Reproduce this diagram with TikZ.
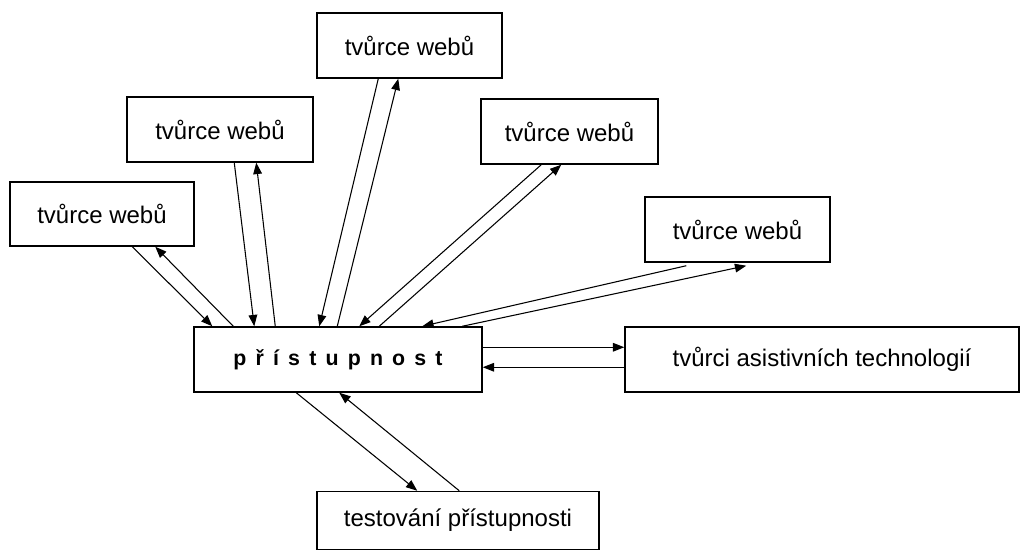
\documentclass[tikz,border=0pt]{standalone}
\usepackage{fontspec}
\setmainfont{Liberation Sans}
\newfontfamily\spacedbold[WordSpace=1.55]{Liberation Sans}
\usetikzlibrary{arrows.meta,calc}
\begin{document}
\begin{tikzpicture}[x=0.75pt,y=-0.75pt,
  box/.style={draw,line width=1.1pt,rectangle,inner sep=0pt,anchor=center,
    font=\fontsize{18}{22}\selectfont},
  sz/.style 2 args={minimum width=#1*0.75pt,minimum height=#2*0.75pt},
  arr/.style={-{Triangle[length=8.5pt,width=6.5pt]},line width=0.8pt}]
\useasboundingbox (0,0) rectangle (1021,552);
% boxes
\node[box,sz={184}{64}] (b1) at (102,214) {tvůrce webů};
\node[box,sz={186}{65}] (b2) at (220,129.5) {tvůrce webů};
\node[box,sz={185}{65}] (b3) at (409.5,45.5) {tvůrce webů};
\node[box,sz={177}{65}] (b4) at (569.5,131.5) {tvůrce webů};
\node[box,sz={185}{65}] (b5) at (737.5,229.5) {tvůrce webů};
\node[box,sz={288}{65}] (c) at (338,359.5) {\spacedbold\bfseries\fontsize{16}{19}\selectfont p ř í s t u p n o s t};
\node[box,sz={394}{65}] (r) at (822,359.5) {tvůrci asistivních technologií};
\node[box,sz={282}{58}] (t) at (458,520.5) {testování přístupnosti};
% connectors
\draw[arr] ($(b1.south west)+(123,0)$) -- ($(c.north west)+(19,0)$);
\draw[arr] ($(c.north west)+(40,0)$) -- ($(b1.south west)+(146,0)$);
\draw[arr] ($(b2.south west)+(108,0)$) -- ($(c.north west)+(61,0)$);
\draw[arr] ($(c.north west)+(82,0)$) -- ($(b2.south west)+(130,0)$);
\draw[arr] ($(b3.south west)+(62,0)$) -- ($(c.north west)+(126,0)$);
\draw[arr] ($(c.north west)+(144,0)$) -- ($(b3.south west)+(82,0)$);
\draw[arr] ($(b4.south west)+(61,0)$) -- ($(c.north west)+(166,0)$);
\draw[arr] ($(c.north west)+(186,0)$) -- ($(b4.south west)+(81,0)$);
\draw[arr] ($(b5.south west)+(42,3)$) -- ($(c.north west)+(229,0)$);
\draw[arr] ($(c.north west)+(269,0)$) -- ($(b5.south west)+(102,3)$);
\draw[arr] ($(c.north east)+(0,21)$) -- ($(r.north west)+(0,21)$);
\draw[arr] ($(r.north west)+(0,41)$) -- ($(c.north east)+(0,41)$);
\draw[arr] ($(c.south west)+(103,0)$) -- ($(t.north west)+(101,0)$);
\draw[arr] ($(t.north west)+(143,0)$) -- ($(c.south west)+(146,0)$);
\end{tikzpicture}
\end{document}
